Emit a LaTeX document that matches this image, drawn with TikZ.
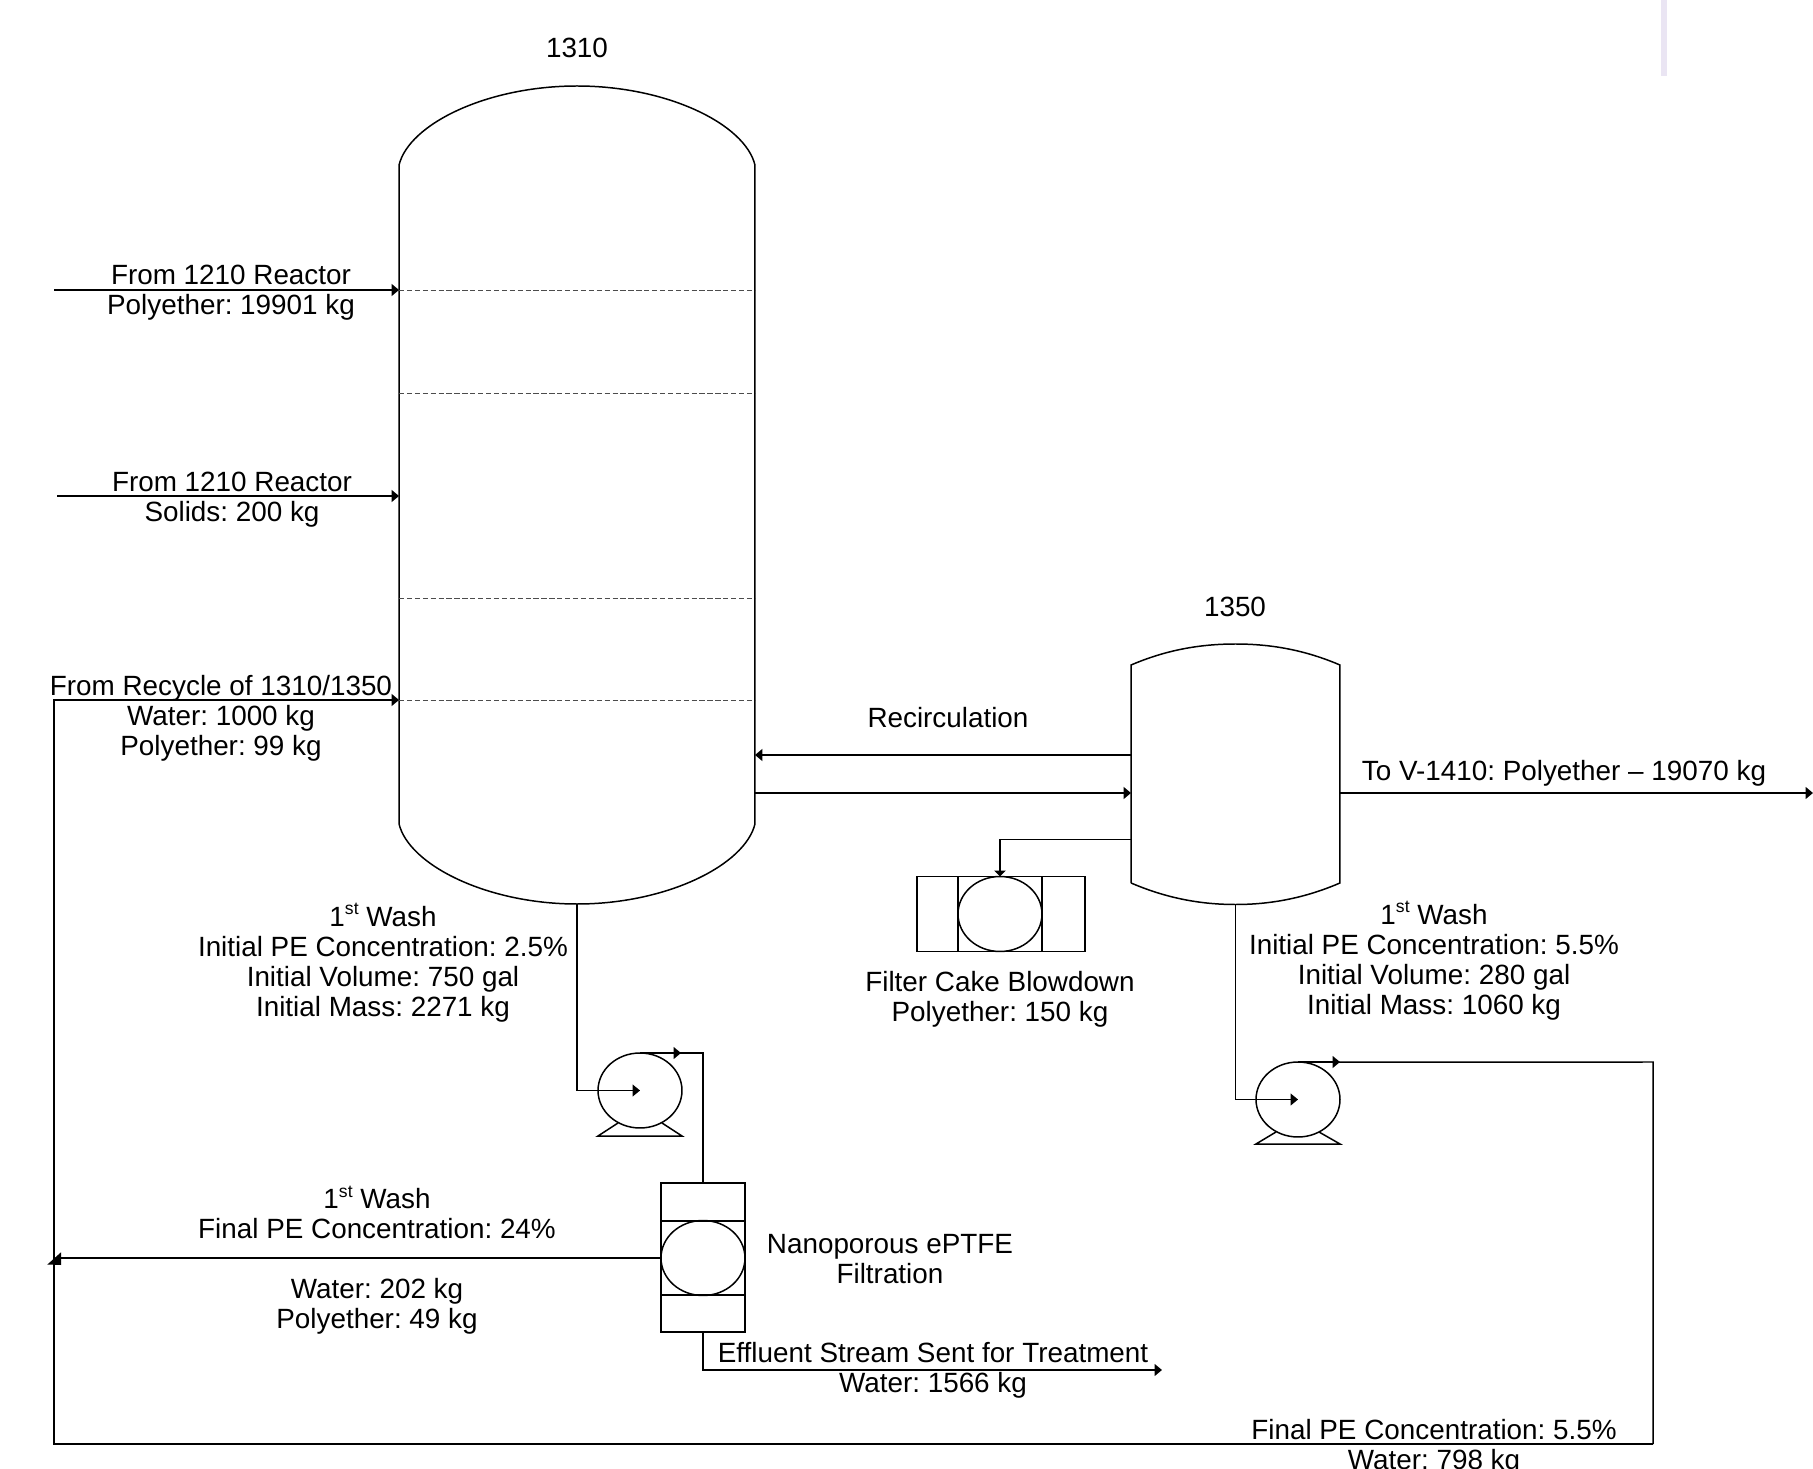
\documentclass[tikz,border=0pt]{standalone}
\usepackage{fontspec}
\setmainfont{Liberation Sans}
\usepackage{xcolor}
\usetikzlibrary{arrows.meta,positioning,calc,shapes.geometric}
\definecolor{barlilac}{HTML}{EAE5F3}
\newcommand{\ordst}{\raisebox{0.42em}{\fontsize{10}{10}\selectfont st}}
\tikzset{
	vessel/.style={rectangle, inner sep=0pt, outer sep=0pt},
	wall/.style={draw=black, line width=0.85pt},
	tray/.style={draw=black!70, line width=0.5pt, dashed, dash pattern=on 3pt off 1.5pt},
	flow/.style={wall, -{Triangle[length=1.5mm, width=2.4mm]}},
	thinflow/.style={draw=black, line width=0.6pt, -{Triangle[length=1.2mm, width=2.3mm]}},
	pipe/.style={wall},
	pumpbody/.style={ellipse, draw=black, line width=0.85pt, inner sep=0pt, outer sep=0pt,
		minimum width=1.68cm, minimum height=1.5cm},
	filterbox/.style={rectangle, draw=black, line width=0.85pt, inner sep=0pt, outer sep=0pt},
	lbl/.style={align=center, inner sep=0pt, outer sep=0pt,
		font=\fontsize{15.85}{17.07}\selectfont\frenchspacing},
}

\begin{document}
\begin{tikzpicture}[x=0.02cm, y=-0.02cm, >=latex]
	\useasboundingbox (0,0) rectangle (1813,1469);
	\fill[barlilac] (1660.5,0) rectangle (1667,76);

	% tank 1310
	\node[vessel, minimum width=7.12cm, minimum height=13.18cm] at (577,494.5) (tankA) {};
	\draw[wall] (tankA.south west) -- (tankA.north west)
		.. controls (409,124) and (487,86) .. (577,86)
		.. controls (667,86) and (745,124) .. (tankA.north east) -- (tankA.south east)
		.. controls (745,865) and (667,904) .. (577,904)
		.. controls (487,904) and (409,865) .. (tankA.south west);
	\coordinate (bottomA) at (577,904);
	\foreach \ypos in {290,393,598,700}
		\draw[tray] (tankA.west |- 0,\ypos) -- (tankA.east |- 0,\ypos);

	% tank 1350
	\node[vessel, minimum width=4.18cm, minimum height=4.36cm] at (1235.5,774) (tankB) {};
	\draw[wall] (tankB.south west) -- (tankB.north west)
		.. controls (1166,650) and (1200,644) .. (1235.5,644)
		.. controls (1271,644) and (1305,650) .. (tankB.north east) -- (tankB.south east)
		.. controls (1305,898) and (1271,904.5) .. (1235.5,904.5)
		.. controls (1200,904.5) and (1166,898) .. (tankB.south west);
	\coordinate (bottomB) at (1235.5,904.5);

	% pumps
	\node[pumpbody] at (640,1090.5) (pumpA) {};
	\draw[pipe] (618,1123) -- (598,1136) -- (682,1136) -- (662,1123);
	\node[pumpbody] at (1298,1099.5) (pumpB) {};
	\draw[pipe] (1276,1132) -- (1256,1144) -- (1340,1144) -- (1319,1132);

	% filters
	\node[filterbox, minimum width=1.68cm, minimum height=2.98cm] at (703,1257.5) (filterA) {};
	\node[filterbox, minimum width=1.68cm, minimum height=1.48cm] at (703,1258) (coreA) {};
	\node[pumpbody] at (703,1258) (discA) {};
	\node[filterbox, minimum width=3.36cm, minimum height=1.5cm] at (1001,914) (filterB) {};
	\node[filterbox, minimum width=1.68cm, minimum height=1.5cm] at (1000,914) (coreB) {};
	\node[pumpbody] at (1000,914) (discB) {};

	% free ends
	\coordinate (feedA) at (54,290);
	\coordinate (feedB) at (57,496);
	\coordinate (loopA) at (54,700);
	\coordinate (loopB) at (54,1444);
	\coordinate (loopC) at (1653,1444);
	\coordinate (loopD) at (1653,1062);
	\coordinate (leftEnd) at (61,1258);
	\coordinate (productEnd) at (1813,793);
	\coordinate (effluentEnd) at (1162,1370);
	\coordinate (effluentBend) at (703,1370);

	% streams into 1310
	\draw[flow] (feedA) -- (feedA -| tankA.west);
	\draw[flow] (feedB) -- (feedB -| tankA.west);
	\draw[flow] (loopC) -- (loopB) -- (loopA) -- (loopA -| tankA.west);
	\draw[pipe] (loopC) -- (loopD) -- (pumpB.north);
	\draw[flow] (pumpB.north) -- ++(42,0);

	% recirculation
	\draw[flow] (tankB.west |- 0,755) -- (tankA.east |- 0,755);
	\draw[flow] (tankA.east |- 0,793) -- (tankB.west |- 0,793);
	\draw[flow] (tankB.east |- 0,793) -- (productEnd);
	\draw[thinflow] (tankB.west |- 0,839.5) -| (coreB.north);

	% pump lines
	\draw[pipe] (bottomA) |- (pumpA.center);
	\draw[flow] (pumpA.west) -- (pumpA.center);
	\draw[pipe] (pumpA.north) -| (filterA.north);
	\draw[flow] (pumpA.north) -- ++(41,0);
	\draw[pipe] (bottomB) |- (pumpB.center);
	\draw[flow] (pumpB.west) -- (pumpB.center);

	% filter outlets
	\draw[pipe] (discA.west) -- (leftEnd);
	\fill (47.4,1264.5) -- (61,1252.3) -- (61,1265) -- cycle;
	\draw[flow] (filterA.south) -- (effluentBend) -- (effluentEnd);

	% labels
	\node[lbl] at (577,48) (nameA) {1310};
	\node[lbl] at (1235,607) (nameB) {1350};
	\node[lbl] at (231,292.5) (txtFeedA) {From 1210 Reactor\\Polyether: 19901 kg};
	\node[lbl] at (232,499.5) (txtFeedB) {From 1210 Reactor\\Solids: 200 kg};
	\node[lbl] at (221,718) (txtLoop) {From Recycle of 1310/1350\\Water: 1000 kg\\Polyether: 99 kg};
	\node[lbl] at (948,718) (txtRecirc) {Recirculation};
	\node[lbl] at (1564,773) (txtProduct) {To V-1410: Polyether -- 19070 kg};
	\node[lbl] at (383,962.5) (txtWashA) {1\ordst{} Wash\\Initial PE Concentration: 2.5\%\\Initial Volume: 750 gal\\Initial Mass: 2271 kg};
	\node[lbl] at (1000,999.5) (txtCake) {Filter Cake Blowdown\\Polyether: 150 kg};
	\node[lbl] at (1434,960.5) (txtWashB) {1\ordst{} Wash\\Initial PE Concentration: 5.5\%\\Initial Volume: 280 gal\\Initial Mass: 1060 kg};
	\node[lbl] at (377,1212.5) (txtFinalA) {1\ordst{} Wash\\Final PE Concentration: 24\%};
	\node[lbl] at (377,1306) (txtMassA) {Water: 202 kg\\Polyether: 49 kg};
	\node[lbl] at (890,1259) (txtNano) {Nanoporous ePTFE\\Filtration};
	\node[lbl] at (933,1370.5) (txtEffluent) {Effluent Stream Sent for Treatment\\Water: 1566 kg};
	\node[lbl] at (1434,1447) (txtFinalB) {Final PE Concentration: 5.5\%\\Water: 798 kg};
\end{tikzpicture}
\end{document}
